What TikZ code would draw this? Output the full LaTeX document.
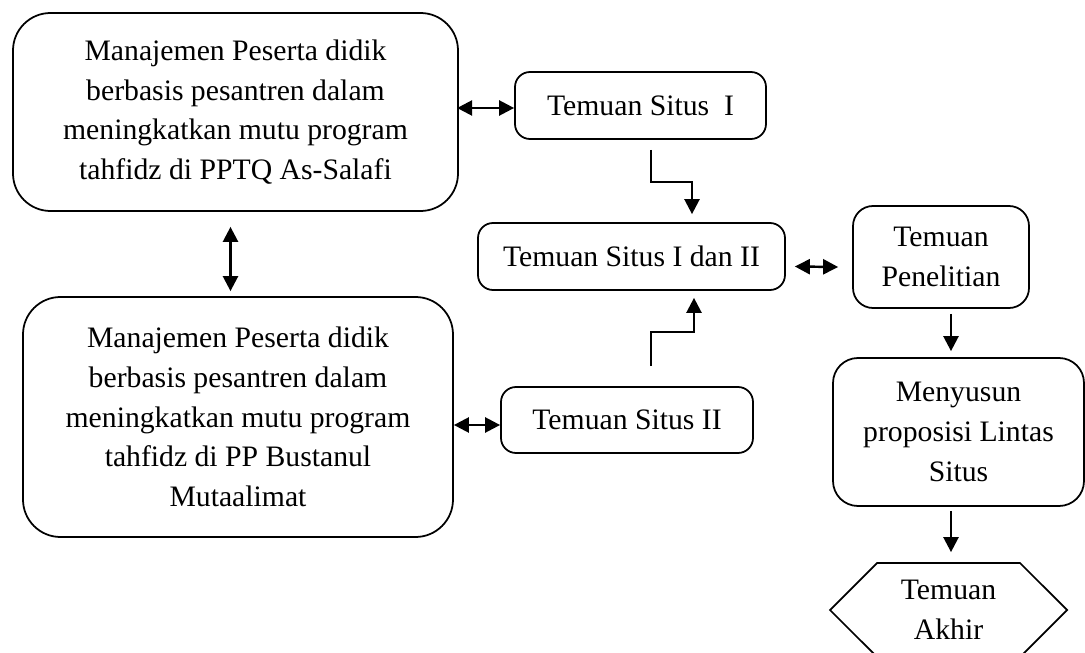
\documentclass[tikz,border=0pt]{standalone}
\usepackage{fontspec}
\setmainfont{Liberation Serif}
\usetikzlibrary{arrows.meta,positioning,calc,shapes.symbols}

\begin{document}
\begin{tikzpicture}[font=\fontsize{16.9}{22.6}\selectfont]
  %----- styles
  \tikzset{
    bigbox/.style ={draw,line width=1pt,rounded corners=0.75cm,align=center},
    smallbox/.style={draw,line width=1pt,rounded corners=0.3cm,align=center},
    finalbox/.style={draw,line width=1pt,signal,signal to=east and west,signal pointer angle=90,align=center,inner sep=0pt},
    onearrow/.style={-{Triangle[length=3mm,width=3mm]},line width=1.4pt},
    twoway/.style  ={{Triangle[length=3mm,width=3mm]}-{Triangle[length=3mm,width=3mm]},line width=1.4pt}
  }
  \useasboundingbox (0,0) rectangle (21.7,13.04);

  %----- nodes
  % left side
  \node[bigbox,minimum width=8.9cm,minimum height=3.96cm] (ppsalafi) at (4.71,10.80)
    {Manajemen Peserta didik\\berbasis pesantren dalam\\meningkatkan mutu program\\tahfidz di PPTQ As-Salafi};
  \node[bigbox,minimum width=8.6cm,minimum height=4.8cm] (ppbustanul) at (4.76,4.70)
    {Manajemen Peserta didik\\berbasis pesantren dalam\\meningkatkan mutu program\\tahfidz di PP Bustanul\\Mutaalimat};
  % middle
  \node[smallbox,minimum width=5.02cm,minimum height=1.34cm] (situs1)  at (12.81,10.93) {Temuan Situs\ \ I};
  \node[smallbox,minimum width=6.14cm,minimum height=1.34cm] (situs12) at (12.63,7.91) {Temuan Situs I dan II};
  \node[smallbox,minimum width=5.04cm,minimum height=1.32cm] (situs2)  at (12.54,4.64) {Temuan Situs II};
  % right side
  \node[smallbox,rounded corners=0.4cm,minimum width=3.52cm,minimum height=2.04cm] (temuan) at (18.82,7.90) {Temuan\\Penelitian};
  \node[smallbox,rounded corners=0.5cm,minimum width=5.02cm,minimum height=2.96cm] (proposisi) at (19.17,4.40) {Menyusun\\proposisi Lintas\\Situs};
  \node[finalbox,minimum width=4.74cm,minimum height=1.88cm] (akhir) at (18.97,0.84) {Temuan\\Akhir};

  %----- connections
  \draw[twoway] (situs1.west) ++(0,-0.05) -- ++(-1.14,0);
  \draw[twoway] ([xshift=-1mm,yshift=-3mm]ppsalafi.south) -- ([xshift=-1mm,yshift=1mm]ppsalafi.south |- ppbustanul.north);
  \draw[twoway] ([yshift=-1mm]situs2.west) -- ([yshift=-1mm]situs2.west -| ppbustanul.east);

  % elbows into the joint findings
  \draw[onearrow] ([xshift=2.1mm,yshift=-2mm]situs1.south) |- ([xshift=12.1mm,yshift=8mm]situs12.north)
    -- ([xshift=12.1mm,yshift=1.6mm]situs12.north);
  \draw[onearrow] ([xshift=4.8mm,yshift=4mm]situs2.north) |- ([xshift=12.5mm,yshift=-8.2mm]situs12.south)
    -- ([xshift=12.5mm,yshift=-1.4mm]situs12.south);

  \draw[twoway] ([xshift=1.8mm,yshift=-2mm]situs12.east) -- ([xshift=-2.8mm,yshift=-2mm]temuan.west);
  \draw[onearrow] ([xshift=2mm,yshift=-1mm]temuan.south) -- ([xshift=2mm,yshift=1.2mm]temuan.south |- proposisi.north);
  \draw[onearrow] ([xshift=-1.5mm,yshift=-0.8mm]proposisi.south) -- ([xshift=-1.5mm,yshift=2mm]proposisi.south |- akhir.north);
\end{tikzpicture}
\end{document}
